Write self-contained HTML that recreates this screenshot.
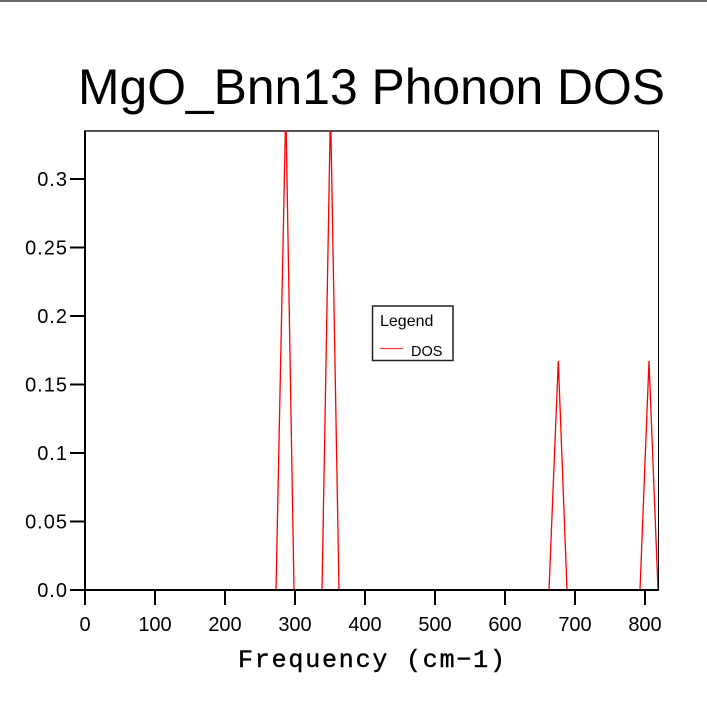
<!DOCTYPE html>
<html>
<head>
<meta charset="utf-8">
<style>
  html,body{margin:0;padding:0;background:#fff;}
  svg{display:block;}
</style>
</head>
<body>
<svg width="707" height="718" viewBox="0 0 707 718" xmlns="http://www.w3.org/2000/svg">
  <rect x="0" y="0" width="707" height="718" fill="#fff"/>
  <!-- top border line of window -->
  <rect x="0" y="0" width="707" height="2" fill="#6a6a6a"/>

  <!-- Title -->
  <text x="78" y="104" font-family="Liberation Sans, sans-serif" font-size="50" fill="#000" textLength="587" lengthAdjust="spacingAndGlyphs">MgO_Bnn13 Phonon DOS</text>

  <defs>
    <clipPath id="plot">
      <rect x="85" y="131" width="573" height="460"/>
    </clipPath>
  </defs>

  <!-- frame top (gray) and right (black) -->
  <rect x="84" y="130" width="575" height="2" fill="#555"/>
  <rect x="658" y="131" width="1" height="459" fill="#000"/>

  <!-- DOS series -->
  <g clip-path="url(#plot)">
    <polyline fill="none" stroke="#ff0000" stroke-width="1.3"
      points="85,590 276,590 285.8,108 294,590 322,590 330.5,108 339,590 549,590 558.3,361 567,590 640,590 649,361 658,590"/>
  </g>

  <!-- axes -->
  <rect x="84" y="131" width="2" height="474" fill="#000"/>
  <rect x="70" y="589" width="589" height="2" fill="#000"/>

  <!-- y ticks -->
  <g fill="#000">
    <rect x="70" y="520.5" width="15" height="2"/>
    <rect x="70" y="452" width="15" height="2"/>
    <rect x="70" y="383.5" width="15" height="2"/>
    <rect x="70" y="315" width="15" height="2"/>
    <rect x="70" y="246.5" width="15" height="2"/>
    <rect x="70" y="178" width="15" height="2"/>
  </g>
  <g font-family="Liberation Sans, sans-serif" font-size="20" fill="#000" text-anchor="end" letter-spacing="1">
    <text x="68" y="597">0.0</text>
    <text x="68" y="528.5">0.05</text>
    <text x="68" y="460">0.1</text>
    <text x="68" y="391.5">0.15</text>
    <text x="68" y="323">0.2</text>
    <text x="68" y="254.5">0.25</text>
    <text x="68" y="186">0.3</text>
  </g>

  <!-- x ticks -->
  <g fill="#000">
    <rect x="154" y="590" width="2" height="15"/>
    <rect x="224" y="590" width="2" height="15"/>
    <rect x="294" y="590" width="2" height="15"/>
    <rect x="364" y="590" width="2" height="15"/>
    <rect x="434" y="590" width="2" height="15"/>
    <rect x="504" y="590" width="2" height="15"/>
    <rect x="574" y="590" width="2" height="15"/>
    <rect x="644" y="590" width="2" height="15"/>
  </g>
  <g font-family="Liberation Sans, sans-serif" font-size="20" fill="#000" text-anchor="middle">
    <text x="85" y="631">0</text>
    <text x="155" y="631">100</text>
    <text x="225" y="631">200</text>
    <text x="295" y="631">300</text>
    <text x="365" y="631">400</text>
    <text x="435" y="631">500</text>
    <text x="505" y="631">600</text>
    <text x="575" y="631">700</text>
    <text x="645" y="631">800</text>
  </g>

  <!-- x axis title -->
  <text x="238" y="667" font-family="Liberation Mono, monospace" font-size="25" fill="#000" stroke="#000" stroke-width="0.4" textLength="267" lengthAdjust="spacing">Frequency (cm−1)</text>

  <!-- Legend -->
  <rect x="372.5" y="306" width="80.5" height="54.5" fill="#fff" stroke="#222" stroke-width="1.5"/>
  <text x="380" y="326" font-family="Liberation Sans, sans-serif" font-size="16" fill="#000">Legend</text>
  <line x1="380" y1="348.5" x2="403" y2="348.5" stroke="#ff4040" stroke-width="1.3"/>
  <text x="411" y="356" font-family="Liberation Sans, sans-serif" font-size="14.5" fill="#000">DOS</text>
</svg>
</body>
</html>
